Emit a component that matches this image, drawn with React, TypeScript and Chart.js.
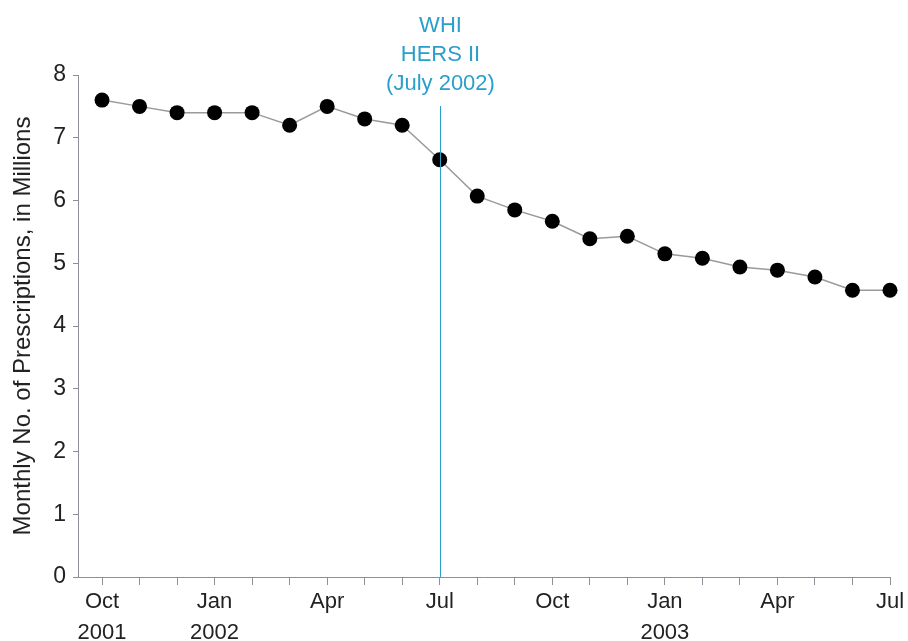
import React, { useEffect, useRef } from "react";
import { Chart, registerables } from "chart.js";

Chart.register(...registerables);

const months = [
  "Oct 2001", "Nov 2001", "Dec 2001", "Jan 2002", "Feb 2002", "Mar 2002",
  "Apr 2002", "May 2002", "Jun 2002", "Jul 2002", "Aug 2002", "Sep 2002",
  "Oct 2002", "Nov 2002", "Dec 2002", "Jan 2003", "Feb 2003", "Mar 2003",
  "Apr 2003", "May 2003", "Jun 2003", "Jul 2003",
];
const prescriptions = [
  7.6, 7.5, 7.4, 7.4, 7.4, 7.2, 7.5, 7.3, 7.2, 6.65, 6.07, 5.85,
  5.67, 5.39, 5.43, 5.15, 5.08, 4.94, 4.89, 4.78, 4.57, 4.57,
];
const tickLabels: Record<number, string[]> = {
  0: ["Oct", "2001"],
  3: ["Jan", "2002"],
  6: ["Apr"],
  9: ["Jul"],
  12: ["Oct"],
  15: ["Jan", "2003"],
  18: ["Apr"],
  21: ["Jul"],
};
const eventIndex = 9;
const eventLines = ["WHI", "HERS II", "(July 2002)"];
const yTitle = "Monthly No. of Prescriptions, in Millions";

const FONT = "'Liberation Sans', Arial, sans-serif";
const TEAL = "#2a9fcb";
const AXIS = "#8f8f9a";

const eventPlugin = {
  id: "eventLine",
  afterDatasetsDraw(chart: any) {
    const { ctx, scales, chartArea } = chart;
    const x = Math.round(scales.x.getPixelForValue(eventIndex)) + 0.5;
    ctx.save();
    ctx.strokeStyle = TEAL;
    ctx.lineWidth = 1;
    ctx.beginPath();
    ctx.moveTo(x, 106);
    ctx.lineTo(x, chartArea.bottom);
    ctx.stroke();
    ctx.fillStyle = TEAL;
    ctx.font = `22px ${FONT}`;
    ctx.textAlign = "center";
    ctx.textBaseline = "alphabetic";
    eventLines.forEach((t, i) => ctx.fillText(t, x, 32 + i * 29));
    ctx.restore();
  },
};

export default function App() {
  const ref = useRef<HTMLCanvasElement>(null);
  useEffect(() => {
    document.body.style.margin = "0";
    const data = prescriptions.map((v, i) => ({ x: i, y: v }));
    const chart = new Chart(ref.current!, {
      type: "line",
      data: {
        datasets: [
          {
            label: "Prescriptions",
            data,
            borderColor: "#9a9a9a",
            borderWidth: 1.5,
            pointBackgroundColor: "#000",
            pointBorderColor: "#000",
            pointRadius: 7.5,
            pointBorderWidth: 0,
            tension: 0,
            clip: false,
          },
        ],
      },
      options: {
        animation: false,
        responsive: false,
        layout: { padding: { top: 75, right: 18, left: 0, bottom: 0 } },
        plugins: { legend: { display: false }, tooltip: { enabled: false } },
        scales: {
          x: {
            type: "linear",
            min: -0.64,
            max: 21,
            afterBuildTicks: (scale: any) => {
              scale.ticks = months.map((_, i) => ({ value: i }));
            },
            afterFit: (scale: any) => {
              scale.height = 64;
            },
            border: { color: AXIS, width: 1 },
            grid: { drawOnChartArea: false, tickLength: 8, color: AXIS },
            ticks: {
              autoSkip: false,
              maxRotation: 0,
              padding: 2,
              color: "#222",
              font: { family: FONT, size: 22, lineHeight: 1.4 },
              callback: (v: any) => tickLabels[v as number] ?? "",
            },
          },
          y: {
            min: 0,
            max: 8,
            afterFit: (scale: any) => {
              scale.width = 78;
            },
            border: { color: AXIS, width: 1 },
            grid: { drawOnChartArea: false, tickLength: 5, color: AXIS },
            ticks: {
              stepSize: 1,
              padding: 7,
              color: "#222",
              font: { family: FONT, size: 23 },
            },
            title: {
              display: true,
              text: yTitle,
              color: "#222",
              padding: { top: 9, bottom: 0 },
              font: { family: FONT, size: 24 },
            },
          },
        },
      },
      plugins: [eventPlugin],
    });
    return () => chart.destroy();
  }, []);
  return (
    <div style={{ width: 908, height: 641 }}>
      <canvas ref={ref} width={908} height={641} style={{ display: "block" }} />
    </div>
  );
}
